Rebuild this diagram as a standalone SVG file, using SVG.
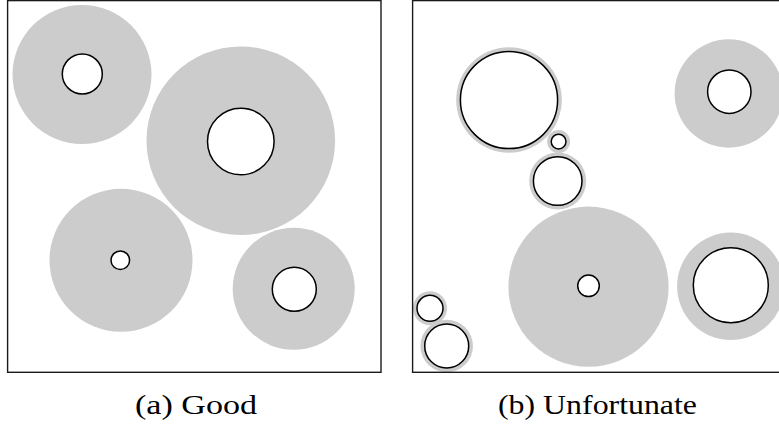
<svg xmlns="http://www.w3.org/2000/svg" width="779" height="428" viewBox="0 0 779 428">
  <style>
    .zone { fill: #cccccc; stroke: none; }
    .disk { fill: #ffffff; stroke: #000000; stroke-width: 1.5; }
    .frame { fill: none; stroke: #1a1a1a; stroke-width: 1.4; }
    .caption { font-family: "Liberation Serif", "DejaVu Serif", serif; font-size: 28px; fill: #000000; }
  </style>

  <!-- Panel (a): well separated disks with wide clearance zones -->
  <g id="panel-a">
    <g id="a-disk-1">
      <circle class="zone" cx="82" cy="74.5" r="69.5"/>
      <circle class="disk" cx="82.3" cy="74" r="20"/>
    </g>
    <g id="a-disk-2">
      <circle class="zone" cx="240.8" cy="140.7" r="94.3"/>
      <circle class="disk" cx="240.8" cy="141.5" r="33.3"/>
    </g>
    <g id="a-disk-3">
      <circle class="zone" cx="121" cy="260.3" r="71.5"/>
      <circle class="disk" cx="120.3" cy="260.2" r="9.3"/>
    </g>
    <g id="a-disk-4">
      <circle class="zone" cx="293.7" cy="288.8" r="61"/>
      <circle class="disk" cx="294.3" cy="289.3" r="22"/>
    </g>
    <rect class="frame" x="7.6" y="0.6" width="373.4" height="371.7"/>
  </g>

  <!-- Panel (b): disks packed with thin or wide clearance zones -->
  <g id="panel-b">
    <g id="b-disk-1">
      <circle class="zone" cx="509" cy="100" r="52.8"/>
      <circle class="disk" cx="509" cy="100" r="48.6"/>
    </g>
    <g id="b-disk-2">
      <circle class="zone" cx="558.6" cy="141.6" r="11.5"/>
      <circle class="disk" cx="558.6" cy="141.6" r="7.4"/>
    </g>
    <g id="b-disk-3">
      <circle class="zone" cx="557.7" cy="181" r="28.5"/>
      <circle class="disk" cx="557.7" cy="181" r="24.3"/>
    </g>
    <g id="b-disk-4">
      <circle class="zone" cx="728.8" cy="93.5" r="54.2"/>
      <circle class="disk" cx="729.3" cy="91.7" r="21.7"/>
    </g>
    <g id="b-disk-5">
      <circle class="zone" cx="588.5" cy="286.7" r="80.1"/>
      <circle class="disk" cx="588.5" cy="285.8" r="10.8"/>
    </g>
    <g id="b-disk-6">
      <circle class="zone" cx="730.8" cy="286.3" r="53.7"/>
      <circle class="disk" cx="730.8" cy="285.2" r="37.5"/>
    </g>
    <g id="b-disk-7">
      <circle class="zone" cx="430" cy="308.3" r="17"/>
      <circle class="disk" cx="430" cy="308.3" r="13"/>
    </g>
    <g id="b-disk-8">
      <circle class="zone" cx="446.7" cy="346" r="26.3"/>
      <circle class="disk" cx="446.7" cy="346" r="22"/>
    </g>
    <rect class="frame" x="412.6" y="0.6" width="370" height="371.7"/>
  </g>

  <!-- Sub-figure captions -->
  <g id="captions">
    <text class="caption" x="135" y="414" textLength="122" lengthAdjust="spacingAndGlyphs">(a) Good</text>
    <text class="caption" x="498" y="414" textLength="199" lengthAdjust="spacingAndGlyphs">(b) Unfortunate</text>
  </g>
</svg>
